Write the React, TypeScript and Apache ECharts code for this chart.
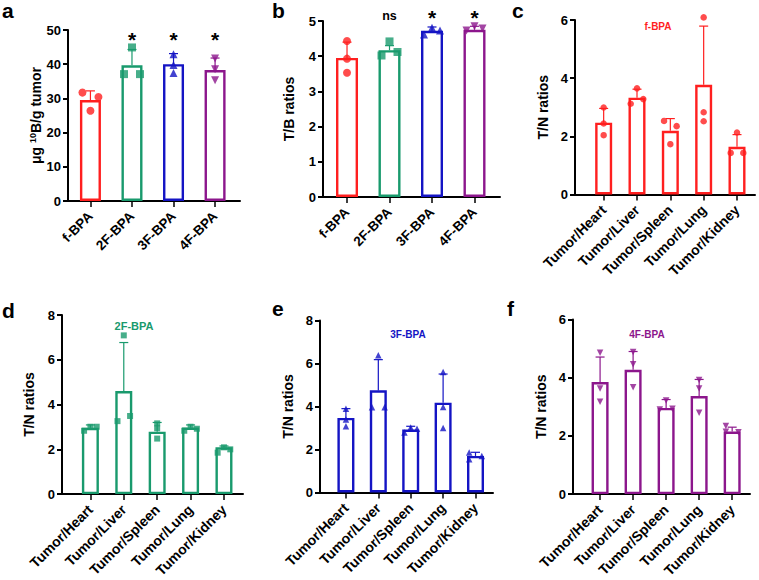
import React, { useEffect, useRef } from 'react';
import * as echarts from 'echarts';

// ---------- data ----------
const groups = ['f-BPA', '2F-BPA', '3F-BPA', '4F-BPA'];
const organs = ['Tumor/Heart', 'Tumor/Liver', 'Tumor/Spleen', 'Tumor/Lung', 'Tumor/Kidney'];

// a: tumor boron (µg 10B / g tumor)
const boronMean = [29.5, 39.7, 40.0, 38.3];
const boronErrTop = [32.2, 44.3, 43.1, 41.8];
const boronPoints = [[31.7, 30.4, 26.4], [44.9, 37.1, 37.1], [42.9, 39.8, 37.4], [41.7, 38.5, 35.3]];
const boronJitter = [[-1, 1, 0], [0, -1, 1], [0, 0, 0], [0, 0, 0]];
const boronSig = ['', '*', '*', '*'];

// b: T/B ratios
const tbMean = [3.95, 4.17, 4.72, 4.75];
const tbErrTop = [4.4, 4.3, 4.83, 4.85];
const tbPoints = [[4.43, 3.93, 3.53], [4.42, 4.02, 4.12], [4.81, 4.62, 4.73], [4.85, 4.73, 4.79]];
const tbJitter = [[0, 0, 0], [0, -1, 1], [0, -1, 1], [0, -1, 1]];
const tbSig = ['', 'ns', '*', '*'];

// c: f-BPA T/N ratios
const fMean = [2.47, 3.33, 2.19, 3.77, 1.64];
const fErrTop = [2.96, 3.62, 2.61, 5.79, 2.06];
const fPoints = [[2.99, 2.44, 2.04], [3.65, 3.12, 3.28], [2.53, 2.35, 1.73], [6.09, 2.83, 2.52], [2.13, 1.43, 1.43]];
const fJitter = [[0, 0, 0], [0, -1, 1], [-1, 1, 0], [0, 0, 0], [0, -1, 1]];

// d: 2F-BPA T/N ratios
const f2Mean = [2.96, 4.6, 2.79, 2.97, 2.09];
const f2ErrTop = [3.09, 6.77, 3.2, 3.09, 2.15];
const f2Points = [[2.83, 3.01, 3.01], [7.09, 3.26, 3.49], [3.16, 2.94, 2.48], [2.83, 3.01, 2.92], [1.85, 2.09, 2.0]];
const f2Jitter = [[-1, 0, 1], [0, -1, 1], [0, 0, 0], [-1, 0, 1], [-1, 0, 1]];

// e: 3F-BPA T/N ratios
const f3Mean = [3.47, 4.75, 2.93, 4.18, 1.7];
const f3ErrTop = [3.9, 6.18, 3.08, 5.51, 1.87];
const f3Points = [[3.9, 3.4, 3.08], [6.38, 3.96, 3.96], [3.02, 2.79, 2.97], [5.6, 3.98, 3.0], [1.86, 1.55, 1.7]];
const f3Jitter = [[0, 0, 0], [0, -1, 1], [0, -1, 1], [0, 0, 0], [-1, -1, 1]];

// f: 4F-BPA T/N ratios
const f4Mean = [3.85, 4.27, 2.96, 3.37, 2.15];
const f4ErrTop = [4.71, 4.9, 3.25, 3.94, 2.3];
const f4Points = [[4.86, 3.63, 3.17], [4.88, 4.46, 3.67], [3.22, 2.91, 2.93], [3.92, 3.63, 2.8], [2.34, 2.14, 2.13]];
const f4Jitter = [[0, 0, 0], [0, 0, 0], [0, -1, 1], [0, 0, 0], [-1, -1, 1]];

// ---------- styles ----------
const FONT = '"Liberation Sans", Arial, Helvetica, sans-serif';
const RED = '#FF1F1F';
const GREEN = '#199A6D';
const BLUE = '#1414C4';
const PURPLE = '#8C168C';
const DOWN = 'path://M0,0L10,0L5,9Z';

type Panel = {
  letter: string; letterPos: [number, number];
  title?: string; titlePos?: [number, number]; titleSize?: number;
  cats: string[]; mean: number[]; err: number[]; pts: number[][]; jit: number[][];
  sig?: string[]; sigY?: number[];
  colors: string[]; symbols: string[];
  grid: { left: number; top: number; width: number; height: number };
  xMin: number; xMax: number; yMax: number; yInt: number;
  yName: string; nameGap: number; barWidth: number; jitPx: number; symSize: number; cap: number;
  xLabelSize: number;
};

const panels: Panel[] = [
  {
    letter: 'a', letterPos: [2, 10], cats: groups, mean: boronMean, err: boronErrTop, pts: boronPoints, jit: boronJitter,
    sig: boronSig, sigY: [47.1, 47.1, 47.1, 47.1],
    colors: [RED, GREEN, BLUE, PURPLE], symbols: ['circle', 'rect', 'triangle', DOWN],
    grid: { left: 68, top: 30, width: 172, height: 171 }, xMin: -0.54, xMax: 3.6, yMax: 50, yInt: 10,
    yName: '{n|μg }{s|10}{n|B/g tumor}', nameGap: 22, barWidth: 21, jitPx: 8, symSize: 8, cap: 4.5,
    xLabelSize: 13.5,
  },
  {
    letter: 'b', letterPos: [272, 10], cats: groups, mean: tbMean, err: tbErrTop, pts: tbPoints, jit: tbJitter,
    sig: tbSig, sigY: [5.1, 5.14, 5.1, 5.1],
    colors: [RED, GREEN, BLUE, PURPLE], symbols: ['circle', 'rect', 'triangle', DOWN],
    grid: { left: 323, top: 21, width: 177, height: 176 }, xMin: -0.565, xMax: 3.6, yMax: 5, yInt: 1,
    yName: 'T/B ratios', nameGap: 27, barWidth: 22, jitPx: 8, symSize: 8, cap: 4.5,
    xLabelSize: 13.5,
  },
  {
    letter: 'c', letterPos: [512, 10], title: 'f-BPA', titlePos: [658, 26.7], titleSize: 10,
    cats: organs, mean: fMean, err: fErrTop, pts: fPoints, jit: fJitter,
    colors: [RED], symbols: ['circle'],
    grid: { left: 575, top: 20, width: 180, height: 174.5 }, xMin: -0.86, xMax: 4.54, yMax: 6, yInt: 2,
    yName: 'T/N ratios', nameGap: 25, barWidth: 17, jitPx: 6.3, symSize: 6.5, cap: 4.5,
    xLabelSize: 14,
  },
  {
    letter: 'd', letterPos: [2, 310], title: '2F-BPA', titlePos: [134, 325.7], titleSize: 11,
    cats: organs, mean: f2Mean, err: f2ErrTop, pts: f2Points, jit: f2Jitter,
    colors: [GREEN], symbols: ['rect'],
    grid: { left: 62, top: 315, width: 181, height: 180 }, xMin: -0.85, xMax: 4.57, yMax: 8, yInt: 2,
    yName: 'T/N ratios', nameGap: 26, barWidth: 17, jitPx: 6.3, symSize: 6, cap: 4.5,
    xLabelSize: 14,
  },
  {
    letter: 'e', letterPos: [272, 308], title: '3F-BPA', titlePos: [408, 334], titleSize: 10,
    cats: organs, mean: f3Mean, err: f3ErrTop, pts: f3Points, jit: f3Jitter,
    colors: [BLUE], symbols: ['triangle'],
    grid: { left: 320, top: 320.5, width: 173, height: 172 }, xMin: -0.8, xMax: 4.54, yMax: 8, yInt: 2,
    yName: 'T/N ratios', nameGap: 25, barWidth: 17, jitPx: 6.3, symSize: 6.5, cap: 4.5,
    xLabelSize: 14,
  },
  {
    letter: 'f', letterPos: [507, 308], title: '4F-BPA', titlePos: [647, 334], titleSize: 10,
    cats: organs, mean: f4Mean, err: f4ErrTop, pts: f4Points, jit: f4Jitter,
    colors: [PURPLE], symbols: [DOWN],
    grid: { left: 573, top: 319.5, width: 177, height: 176 }, xMin: -0.82, xMax: 4.54, yMax: 6, yInt: 2,
    yName: 'T/N ratios', nameGap: 25, barWidth: 17, jitPx: 6.3, symSize: 6.5, cap: 4.5,
    xLabelSize: 14,
  },
];

function buildOption() {
  const grid: any[] = [];
  const xAxis: any[] = [];
  const yAxis: any[] = [];
  const series: any[] = [];
  const graphic: any[] = [];

  panels.forEach((p, gi) => {
    const colorAt = (i: number) => p.colors[i % p.colors.length];
    const symAt = (i: number) => p.symbols[i % p.symbols.length];
    const idx = p.cats.map((_, i) => i);

    grid.push({ ...p.grid });
    xAxis.push({
      gridIndex: gi, type: 'value', min: p.xMin, max: p.xMax,
      axisLine: { show: true, onZero: false, lineStyle: { color: '#000', width: 2 } },
      axisTick: { show: true, customValues: idx, length: 6, lineStyle: { color: '#000', width: 1.5 } },
      axisLabel: {
        show: true, customValues: idx, formatter: (v: number) => p.cats[Math.round(v)] ?? '',
        rotate: 45, fontSize: p.xLabelSize, fontWeight: 'bold', fontFamily: FONT, color: '#000', margin: 13,
      },
      splitLine: { show: false },
    });
    yAxis.push({
      gridIndex: gi, type: 'value', min: 0, max: p.yMax, interval: p.yInt,
      axisLine: { show: true, onZero: false, lineStyle: { color: '#000', width: 2 } },
      axisTick: { show: true, length: 5, lineStyle: { color: '#000', width: 2 } },
      axisLabel: { fontSize: 13, fontWeight: 'bold', fontFamily: FONT, color: '#000', margin: 7 },
      splitLine: { show: false },
      name: p.yName, nameLocation: 'middle', nameGap: p.nameGap,
      nameTextStyle: {
        fontSize: 14, fontWeight: 'bold', fontFamily: FONT, color: '#000',
        rich: {
          n: { fontSize: 14, fontWeight: 'bold', fontFamily: FONT, color: '#000' },
          s: { fontSize: 9, fontWeight: 'bold', fontFamily: FONT, color: '#000', verticalAlign: 'top' },
        },
      },
    });

    series.push({
      type: 'bar', xAxisIndex: gi, yAxisIndex: gi, barWidth: p.barWidth, z: 2,
      data: p.mean.map((m, i) => ({
        value: [i, m],
        itemStyle: { color: '#fff', borderColor: colorAt(i), borderWidth: 2.4 },
      })),
    });

    series.push({
      type: 'custom', xAxisIndex: gi, yAxisIndex: gi, clip: false, z: 3,
      data: p.mean.map((m, i) => [i, m, p.err[i]]),
      renderItem: (_params: any, api: any) => {
        const i = api.value(0);
        const a = api.coord([i, api.value(1)]);
        const b = api.coord([i, api.value(2)]);
        const c = colorAt(i);
        const h = p.cap;
        return {
          type: 'group',
          children: [
            { type: 'line', shape: { x1: a[0], y1: a[1], x2: b[0], y2: b[1] }, style: { stroke: c, lineWidth: 1.2 } },
            { type: 'line', shape: { x1: b[0] - h, y1: b[1], x2: b[0] + h, y2: b[1] }, style: { stroke: c, lineWidth: 1.2 } },
          ],
        };
      },
    });

    const pts: any[] = [];
    p.pts.forEach((arr, i) => {
      arr.forEach((v, k) => {
        pts.push({
          value: [i, v],
          symbol: symAt(i),
          symbolOffset: [p.jit[i][k] * p.jitPx, 0],
          itemStyle: { color: colorAt(i) },
        });
      });
    });
    series.push({
      type: 'scatter', xAxisIndex: gi, yAxisIndex: gi, clip: false, z: 4,
      symbolSize: p.symSize, data: pts,
    });

    if (p.sig && p.sigY) {
      series.push({
        type: 'custom', xAxisIndex: gi, yAxisIndex: gi, clip: false, z: 5,
        data: p.sig.map((s, i) => [i, p.sigY![i], s]),
        renderItem: (params: any, api: any) => {
          const s = p.sig![params.dataIndex];
          if (!s) return null;
          const pt = api.coord([api.value(0), api.value(1)]);
          const star = s === '*';
          return {
            type: 'text', x: pt[0], y: pt[1],
            style: {
              text: s, fill: '#000', align: 'center', verticalAlign: 'middle',
              font: `bold ${star ? 21 : 12.5}px ${FONT}`,
            },
          };
        },
      });
    }

    graphic.push({
      type: 'text', x: p.letterPos[0], y: p.letterPos[1],
      style: { text: p.letter, fill: '#000', font: `bold 21px ${FONT}`, verticalAlign: 'middle', align: 'left' },
    });
    if (p.title && p.titlePos) {
      graphic.push({
        type: 'text', x: p.titlePos[0], y: p.titlePos[1],
        style: {
          text: p.title, fill: p.colors[0], font: `bold ${p.titleSize}px ${FONT}`,
          align: 'center', verticalAlign: 'middle',
        },
      });
    }
  });

  return {
    animation: false,
    backgroundColor: '#fff',
    textStyle: { fontFamily: FONT },
    grid, xAxis, yAxis, series, graphic,
  };
}

export default function App() {
  const ref = useRef<HTMLDivElement>(null);
  useEffect(() => {
    if (!ref.current) return;
    const chart = echarts.init(ref.current, undefined, { renderer: 'svg' });
    chart.setOption(buildOption() as any);
    return () => chart.dispose();
  }, []);
  return (
    <div
      ref={ref}
      style={{ position: 'fixed', left: 0, top: 0, width: 759, height: 580, background: '#fff' }}
    />
  );
}
